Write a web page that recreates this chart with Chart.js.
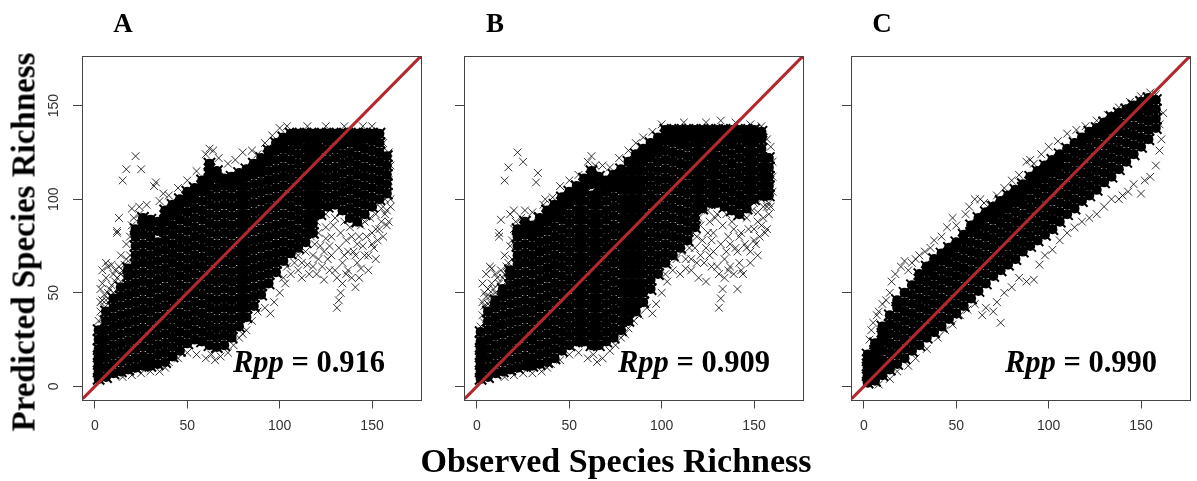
<!DOCTYPE html>
<html>
<head>
<meta charset="utf-8">
<script src="https://cdn.jsdelivr.net/npm/chart.js@4/dist/chart.umd.min.js"></script>
<style>
  html, body { margin: 0; padding: 0; background: #fff; }
  #wrap { position: relative; width: 1197px; height: 481px; overflow: hidden; }
  .box { position: absolute; top: 0; width: 409px; height: 481px; }
  .t { position: absolute; font-family: "Liberation Serif", "Times New Roman", serif; font-weight: bold;
       color: #000; white-space: nowrap; line-height: 1; }
</style>
</head>
<body>
<div id="wrap">
  <div class="box" style="left:21.5px"><canvas id="cA" width="409" height="481"></canvas></div>
  <div class="box" style="left:404px"><canvas id="cB" width="409" height="481"></canvas></div>
  <div class="box" style="left:791px"><canvas id="cC" width="409" height="481"></canvas></div>

  <div class="t" style="left:123px;top:10px;font-size:27px;transform:translateX(-50%)">A</div>
  <div class="t" style="left:495px;top:10px;font-size:27px;transform:translateX(-50%)">B</div>
  <div class="t" style="left:882px;top:10px;font-size:27px;transform:translateX(-50%)">C</div>

  <div class="t" style="left:233px;top:347px;font-size:30.5px"><i>Rpp</i> = 0.916</div>
  <div class="t" style="left:618px;top:347px;font-size:30.5px"><i>Rpp</i> = 0.909</div>
  <div class="t" style="left:1005px;top:347px;font-size:30.5px"><i>Rpp</i> = 0.990</div>

  <div class="t" style="left:616px;top:444px;font-size:34px;transform:translateX(-50%)">Observed Species Richness</div>
  <div class="t" style="left:24px;top:242px;font-size:33px;transform:translate(-50%,-50%) rotate(-90deg)">Predicted Species Richness</div>
</div>
<script>
// axis setup shared by the three panels
const tickVals = [0, 50, 100, 150];
const axisMin = -7, axisMax = 176.5;
const diag = [-7, 176.5];

// dense part of each cloud: [observed, [predicted...]]
const coreA = [
  [2, [4,8,12,16,20,25,30]],
  [6, [5,10,15,20,25,30,35,40]],
  [10, [7,12,17,22,27,32,37,42,47]],
  [14, [8,13,18,23,28,33,38,43,48,53]],
  [18, [9,14,19,24,29,34,39,44,49,54,59,63]],
  [22, [10,15,20,25,30,35,40,45,50,55,60,65,70,75,80,84]],
  [26, [11,16,21,26,31,36,41,46,51,56,61,66,71,76,81,86,90]],
  [30, [11,15,20,25,30,35,40,45,50,55,60,65,70,75,80,85,89]],
  [34, [12,17,22,27,32,37,42,47,52,57,62,67,72,77,83,88]],
  [38, [13,18,23,28,33,38,43,48,53,58,63,68,73,78,83,88,91,94]],
  [42, [16,21,26,31,36,41,46,51,56,61,66,71,76,81,86,91,94,97]],
  [46, [19,24,29,34,39,44,49,54,59,64,69,74,79,84,89,94,97,100]],
  [50, [23,28,33,38,43,48,53,58,63,68,73,78,83,88,93,98,101,104]],
  [54, [25,30,35,40,45,50,55,60,65,70,75,80,85,90,95,100,103,106]],
  [58, [24,29,34,39,44,49,54,59,64,69,74,79,84,89,94,99,104,107,110]],
  [62, [22,27,32,37,42,47,52,57,62,67,72,77,82,87,92,97,102,107,110,113,116,119]],
  [66, [21,26,31,36,41,46,51,56,61,66,71,76,81,86,91,96,101,106,111,115]],
  [70, [22,27,32,37,42,47,52,57,62,67,72,77,82,87,92,97,102,107,111]],
  [74, [26,31,36,41,46,51,56,61,66,71,76,81,86,91,96,101,106,109,112]],
  [78, [32,37,42,47,52,57,62,67,72,77,82,87,92,97,102,107,110,114]],
  [82, [37,42,47,52,57,62,67,72,77,82,87,92,97,102,107,112,116]],
  [86, [43,48,53,58,63,68,73,78,83,88,93,98,103,108,113,116,119]],
  [90, [49,54,59,64,69,74,79,84,89,94,99,104,109,114,118,122]],
  [94, [55,60,65,70,75,80,85,90,95,100,105,110,115,120,123,126]],
  [98, [61,66,71,76,81,86,91,96,101,106,111,116,121,126,130]],
  [102, [67,72,77,82,87,92,97,102,107,112,117,122,127,130,133]],
  [106, [71,76,81,86,91,96,101,106,111,116,121,126,131,135]],
  [110, [74,79,84,89,94,99,104,109,114,119,124,129,132,135]],
  [114, [77,82,87,92,97,102,107,112,117,122,127,132,135]],
  [118, [82,87,92,97,102,107,112,117,122,127,132,135]],
  [122, [92,97,102,107,112,117,122,127,132,135]],
  [126, [96,101,106,111,116,121,126,131,135]],
  [130, [97,102,107,112,117,122,127,132,135]],
  [134, [94,99,104,109,114,119,124,129,132,135]],
  [138, [90,95,100,105,110,115,120,125,130,135]],
  [142, [88,93,98,103,108,113,118,123,128,132,135]],
  [146, [92,97,102,107,112,117,122,127,132,135]],
  [150, [96,101,106,111,116,121,126,131,135]],
  [154, [100,105,110,115,120,125,130,135]],
  [158, [103,108,113,118,123]]
];
// scattered single crosses around the dense part
const edgeA = [
  [2,35],[3,40],[4,46],[5,49],[3,52],[6,58],[4,62],[9,65],[7,64],[6,66],[10,60],[11,56],[8,52],
  [3,45],[4,55],[5,42],[6,46],[7,50],[8,46],[9,54],[10,50],[11,62],[12,58],[13,64],[14,60],
  [15,62],[16,58],[17,68],[18,64],[19,70],[19,80],[20,86],[5,38],[4,36],[21,90],[24,92],
  [12,82],[12,83],[13,90],[15,110],[17,116],[22,123],[25,116],[32,107],[33,109],[37,103],
  [16,65],[14,70],[17,76],[20,95],[24,96],[28,97],[35,99],[40,102],[45,106],[50,110],[55,115],
  [60,124],[62,127],[64,126],[67,122],[72,119],[76,121],[80,125],[85,126],[88,124],[92,130],
  [96,134],[100,138],[104,139],[115,139],[125,139],[135,139],[145,139],[150,139],
  [15,5],[20,6],[25,7],[30,8],[35,8],[38,10],[40,13],[45,15],[50,18],[55,17],[60,15],[63,17],
  [65,14],[68,16],[72,18],[75,22],[78,26],[80,28],[82,30],[85,35],[88,40],[92,42],[95,39],
  [97,45],[100,50],[103,55],[106,60],[110,62],[112,58],
  [115,65],[118,70],[120,60],[122,75],[124,57],[126,68],[128,80],[130,62],[131,42],[132,46],
  [133,50],[134,55],[135,70],[136,78],[137,62],[138,85],[140,72],[141,53],[142,66],[143,80],
  [144,63],[145,75],[146,88],[148,70],[150,82],[151,74],[152,92],[154,84],[155,95],[157,100],
  [158,86],[159,110],[160,100],[160,118],[159,125],[156,130],[120,88],[125,85],[130,90],
  [127,75],[117,80],
  [102,58],[104,64],[108,66],[110,70],[112,66],[114,72],[116,60],[118,64],[119,76],[121,68],
  [121,82],[123,64],[124,72],[125,79],[127,62],[128,70],[129,86],[131,58],[132,74],[133,82],
  [134,66],[136,60],[137,72],[139,80],[139,58],[141,70],[142,76],[143,58],[144,86],[146,70],
  [147,80],[148,62],[149,90],[150,76],[152,68],[152,84],[153,78],[155,88],[156,80],[157,92],
  [158,94],[159,88],[160,96],[154,98],[150,96],[145,96],[140,90],[135,88],[125,92],[120,96]
];

const coreB = [
  [2, [4,8,12,16,20,24,29]],
  [6, [5,10,15,20,25,30,35,40]],
  [10, [7,12,17,22,27,32,37,42,46]],
  [14, [8,13,18,23,28,33,38,43,48,52]],
  [18, [9,14,19,24,29,34,39,44,49,54,59,62]],
  [22, [10,15,20,25,30,35,40,45,50,55,60,65,70,75,80,84]],
  [26, [11,16,21,26,31,36,41,46,51,56,61,66,71,76,81,85,88]],
  [30, [11,15,20,25,30,35,40,45,50,55,60,65,70,75,80,83,86]],
  [34, [12,17,22,27,32,37,42,47,52,57,62,67,72,77,82,86,90]],
  [38, [13,18,23,28,33,38,43,48,53,58,63,68,73,78,83,88,91,94]],
  [42, [15,20,25,30,35,40,45,50,55,60,65,70,75,80,85,90,94,97]],
  [46, [19,24,29,34,39,44,49,54,59,64,69,74,79,84,89,94,98,101]],
  [50, [22,27,32,37,42,47,52,57,62,67,72,77,82,87,92,97,101,104]],
  [54, [24,29,34,39,44,49,54,59,64,69,74,79,84,89,94,99,103,107]],
  [58, [24,29,34,39,44,49,54,59,64,69,74,79,84,89,94,99,104,108,111]],
  [62, [22,27,32,37,42,47,52,57,62,67,72,77,82,87,92,97,102,108,112,115]],
  [66, [22,27,32,37,42,47,52,57,62,67,72,77,82,87,92,97,102,107,112]],
  [70, [24,29,34,39,44,49,54,59,64,69,74,79,84,89,94,99,104,107,110]],
  [74, [26,31,36,41,46,51,56,61,66,71,76,81,86,91,96,101,106,110,113]],
  [78, [30,35,40,45,50,55,60,65,70,75,80,85,90,95,100,105,110,113,116]],
  [82, [35,40,45,50,55,60,65,70,75,80,85,90,95,100,105,110,115,120]],
  [86, [40,45,50,55,60,65,70,75,80,85,90,95,100,105,110,115,120,124]],
  [90, [45,50,55,60,65,70,75,80,85,90,95,100,105,110,115,120,124,127]],
  [94, [52,57,62,67,72,77,82,87,92,97,102,107,112,117,122,126,130]],
  [98, [60,65,70,75,80,85,90,95,100,105,110,115,120,125,129,133]],
  [102, [66,71,76,81,86,91,96,101,106,111,116,121,126,131,134,137]],
  [106, [70,75,80,85,90,95,100,105,110,115,120,125,130,134,137]],
  [110, [74,79,84,89,94,99,104,109,114,119,124,129,133,137]],
  [114, [78,83,88,93,98,103,108,113,118,123,128,133,137]],
  [118, [85,90,95,100,105,110,115,120,125,130,134,137]],
  [122, [95,100,105,110,115,120,125,130,134,137]],
  [126, [98,103,108,113,118,123,128,133,137]],
  [130, [98,103,108,113,118,123,128,133,137]],
  [134, [96,101,106,111,116,121,126,131,134,137]],
  [138, [94,99,104,109,114,119,124,129,133,137]],
  [142, [92,97,102,107,112,117,122,127,132,137]],
  [146, [95,100,105,110,115,120,125,130,134,137]],
  [150, [100,105,110,115,120,125,130,134,137]],
  [154, [102,107,112,117,122,127,132,136]],
  [158, [102,107,112,117,122]]
];
const edgeB = [
  [2,32],[3,38],[4,43],[5,48],[3,55],[5,60],[7,64],[8,63],[8,55],[6,52],[10,60],[12,80],[12,82],
  [3,45],[4,50],[5,40],[6,44],[7,48],[8,44],[9,52],[10,50],[11,58],[12,55],[13,62],[14,58],
  [15,60],[16,56],[17,66],[18,62],[19,68],[19,78],[20,84],[5,36],[4,34],[21,88],[24,90],
  [13,89],[15,110],[17,117],[22,125],[25,120],[32,109],[33,114],[37,100],[16,64],[15,70],[18,75],
  [18,92],[20,94],[26,94],[30,93],[36,97],[41,101],[45,107],[50,110],[55,113],[60,120],[62,123],
  [64,118],[68,118],[72,117],[77,122],[82,126],[86,130],[90,133],[95,136],[100,140],[112,141],
  [124,141],[132,142],[140,141],[148,140],[154,139],
  [15,5],[20,6],[25,7],[30,7],[35,8],[38,10],[40,12],[45,14],[50,17],[55,18],[60,15],[63,17],
  [65,13],[68,15],[72,19],[75,22],[78,26],[80,28],[82,31],[85,35],[88,38],[92,42],[95,39],
  [97,44],[100,50],[103,56],[106,62],[110,60],[113,63],
  [116,68],[118,74],[120,58],[122,78],[124,56],[126,70],[128,82],[130,64],[131,42],[132,47],
  [133,52],[134,58],[135,72],[136,80],[137,64],[138,88],[140,74],[141,52],[142,66],[143,82],
  [144,60],[145,76],[146,90],[148,72],[150,84],[151,76],[152,93],[154,86],[155,96],[157,84],
  [158,98],[159,110],[160,104],[160,120],[159,128],[157,132],[120,90],[126,88],[130,92],
  [127,78],[117,82],
  [102,60],[104,66],[108,68],[111,72],[113,68],[115,74],[116,62],[119,66],[119,80],[121,70],
  [121,86],[123,66],[124,74],[125,82],[127,64],[128,72],[129,90],[131,60],[132,76],[133,86],
  [134,68],[136,62],[137,76],[139,84],[139,60],[141,72],[142,80],[143,62],[144,92],[146,74],
  [147,84],[148,66],[149,94],[150,78],[152,70],[152,88],[153,80],[155,90],[156,82],[157,96],
  [158,92],[159,96],[160,112],[154,100],[150,98],[145,98],[140,94],[135,92],[125,94],[120,97]
];

const coreC = [
  [2, [2,6,10,14,17]],
  [6, [3,7,11,15,19,23]],
  [10, [6,10,14,19,24,28,32]],
  [14, [9,13,18,23,28,33,38]],
  [18, [12,17,22,27,32,37,42,46]],
  [22, [15,20,25,30,35,40,45,50]],
  [26, [19,24,29,34,39,44,49,54]],
  [30, [22,27,32,37,42,47,52,57,60]],
  [34, [26,31,36,41,46,51,56,61,64]],
  [38, [29,34,39,44,49,54,59,64,68]],
  [42, [32,37,42,47,52,57,62,67,71]],
  [46, [36,41,46,51,56,61,66,71,74]],
  [50, [39,44,49,54,59,64,69,74,77]],
  [54, [43,48,53,58,63,68,73,78,81]],
  [58, [47,52,57,62,67,72,77,82,86]],
  [62, [51,56,61,66,71,76,81,86,90]],
  [66, [55,60,65,70,75,80,85,90,93]],
  [70, [59,64,69,74,79,84,89,93,96]],
  [74, [62,67,72,77,82,87,92,96,99]],
  [78, [65,70,75,80,85,90,95,99,102]],
  [82, [68,73,78,83,88,93,98,102,105]],
  [86, [72,77,82,87,92,97,102,106,108]],
  [90, [75,80,85,90,95,100,105,109,112]],
  [94, [78,83,88,93,98,103,108,112,115]],
  [98, [81,86,91,96,101,106,111,115,118]],
  [102, [84,89,94,99,104,109,114,118,121]],
  [106, [88,93,98,103,108,113,118,121,124]],
  [110, [92,97,102,107,112,117,122,127]],
  [114, [95,100,105,110,115,120,125,130]],
  [118, [99,104,109,114,119,124,129,133]],
  [122, [102,107,112,117,122,127,132,136]],
  [126, [105,110,115,120,125,130,135,138]],
  [130, [109,114,119,124,129,134,138,141]],
  [134, [112,117,122,127,132,137,141,144]],
  [138, [116,121,126,131,136,141,146]],
  [142, [120,125,130,135,140,145,148]],
  [146, [124,129,134,139,144,148,150]],
  [150, [128,133,138,143,148,152]],
  [154, [132,137,142,147,151,154]],
  [158, [138,143,148,153]]
];
const edgeC = [
  [3,25],[4,30],[5,34],[7,38],[8,40],[10,44],[12,46],[14,50],[15,56],[17,60],[20,64],[22,67],
  [24,62],[26,66],[28,68],[30,70],[33,72],[36,74],[38,78],[42,80],[45,85],[48,90],[50,86],
  [55,92],[57,96],[60,100],[63,100],[65,98],[68,97],[72,102],[76,106],[80,110],[84,113],
  [88,120],[90,121],[92,119],[96,124],[100,128],[105,131],[110,135],[115,137],[120,139],
  [126,142],[132,145],[138,149],[144,152],[150,155],[155,157],[158,156],
  [8,1],[14,4],[18,8],[24,11],[28,15],[34,20],[40,26],[44,30],[48,33],[52,38],[56,41],[60,44],
  [64,38],[66,42],[70,40],[72,45],[74,34],[76,50],[80,53],[84,58],[88,56],[92,57],[95,65],
  [98,70],[102,73],[106,78],[110,82],[114,85],[118,88],[122,90],[126,92],[130,96],[134,100],
  [138,100],[140,102],[143,104],[146,108],[150,103],[152,110],[155,112],[158,118],[160,126],
  [161,132],[160,140],[162,146]
];

const cols = c => c.flatMap(([x, ys]) => ys.map(y => ({ x, y })));
const pairs = p => p.map(([x, y]) => ({ x, y }));

// frame round the plot area, plus R-style rotated y labels
const frame = {
  id: 'frame',
  afterDatasetsDraw(chart, args, opts) {
    const a = chart.chartArea, ctx = chart.ctx;
    ctx.save();
    ctx.strokeStyle = '#444';
    ctx.lineWidth = 1;
    ctx.strokeRect(Math.round(a.left) + 0.5, Math.round(a.top) + 0.5,
                   Math.round(a.right - a.left), Math.round(a.bottom - a.top));
    if (opts.yLabels) {
      const y = chart.scales.y;
      ctx.fillStyle = '#333';
      ctx.font = '14px "Liberation Sans", Arial, sans-serif';
      ctx.textAlign = 'center';
      ctx.textBaseline = 'middle';
      tickVals.forEach(v => {
        ctx.save();
        ctx.translate(a.left - 28, y.getPixelForValue(v));
        ctx.rotate(-Math.PI / 2);
        ctx.fillText(String(v), 0, 0);
        ctx.restore();
      });
    }
    ctx.restore();
  }
};

function panel(id, core, edge, yLabels) {
  const axis = (isX) => ({
    type: 'linear',
    min: axisMin,
    max: axisMax,
    afterBuildTicks: s => { s.ticks = tickVals.map(v => ({ value: v })); },
    afterFit: s => { if (isX) s.height = 81.5; else s.width = 60; },
    border: { display: false },
    grid: { drawOnChartArea: false, drawTicks: true, tickLength: 9, color: '#444', lineWidth: 1 },
    ticks: isX
      ? { color: '#333', font: { family: '"Liberation Sans", Arial, sans-serif', size: 14 },
          padding: 9, maxRotation: 0, autoSkip: false }
      : { display: false }
  });
  const corePts = cols(core);
  return new Chart(document.getElementById(id), {
    type: 'scatter',
    data: {
      datasets: [
        { type: 'line', data: diag.map(v => ({ x: v, y: v })), borderColor: '#b3282c',
          borderWidth: 3, pointRadius: 0, order: 0 },
        { data: corePts, pointStyle: 'crossRot', pointRadius: 8, pointBorderWidth: 2,
          pointBorderColor: '#000', pointBackgroundColor: '#000', order: 1 },
        { data: corePts, pointStyle: 'circle', pointRadius: 5, pointBorderWidth: 0,
          pointBorderColor: '#000', pointBackgroundColor: '#000', order: 2 },
        { data: pairs(edge), pointStyle: 'crossRot', pointRadius: 5.5, pointBorderWidth: 1,
          pointBorderColor: 'rgba(0,0,0,0.8)', pointBackgroundColor: '#000', order: 3 },
      ]
    },
    options: {
      responsive: false,
      animation: false,
      layout: { padding: { top: 56, left: 0, right: 6, bottom: 0 } },
      plugins: { legend: { display: false }, tooltip: { enabled: false }, frame: { yLabels } },
      scales: { x: axis(true), y: axis(false) }
    },
    plugins: [frame]
  });
}

panel('cA', coreA, edgeA, true);
panel('cB', coreB, edgeB, false);
panel('cC', coreC, edgeC, false);
</script>
</body>
</html>
